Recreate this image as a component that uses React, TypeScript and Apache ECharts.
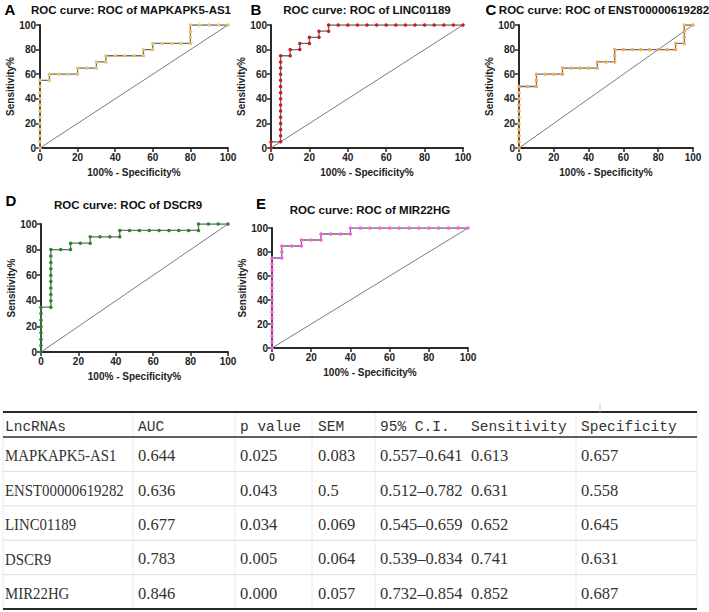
import React, { useEffect, useRef } from "react";
import * as echarts from "echarts";

// ---------- ROC data (100% - Specificity%, Sensitivity%) ----------
const panelLetters = ["A", "B", "C", "D", "E"];
const panelTitles = [
  "ROC curve: ROC of MAPKAPK5-AS1",
  "ROC curve: ROC of LINC01189",
  "ROC curve: ROC of ENST00000619282",
  "ROC curve: ROC of DSCR9",
  "ROC curve: ROC of MIR22HG",
];
const xAxisTitle = "100% - Specificity%";
const yAxisTitle = "Sensitivity%";
const axisTicks = [0, 20, 40, 60, 80, 100];
const diagonal = [0, 100];

const fprA = [0, 0, 0, 0, 0, 0, 0, 0, 0, 0, 0, 0, 5, 5, 10, 15, 20, 20, 25, 30, 30, 35, 35, 40, 45, 50, 55, 55, 60, 60, 65, 70, 75, 80, 80, 80, 80, 85, 90, 95, 100];
const tprA = [0, 5, 10, 15, 20, 25, 30, 35, 40, 45, 50, 55, 55, 60, 60, 60, 60, 65, 65, 65, 70, 70, 75, 75, 75, 75, 75, 80, 80, 85, 85, 85, 85, 85, 90, 95, 100, 100, 100, 100, 100];

const fprB = [0, 0, 5, 5, 5, 5, 5, 5, 5, 5, 5, 5, 5, 5, 5, 5, 5, 10, 10, 15, 15, 20, 20, 25, 25, 30, 30, 35, 40, 45, 50, 55, 60, 65, 70, 75, 80, 85, 90, 95, 100];
const tprB = [0, 5, 5, 10, 15, 20, 25, 30, 35, 40, 45, 50, 55, 60, 65, 70, 75, 75, 80, 80, 85, 85, 90, 90, 95, 95, 100, 100, 100, 100, 100, 100, 100, 100, 100, 100, 100, 100, 100, 100, 100];

const fprC = [0, 0, 0, 0, 0, 0, 0, 0, 0, 0, 0, 5, 10, 10, 10, 15, 20, 25, 25, 30, 35, 40, 45, 45, 50, 55, 55, 55, 60, 65, 70, 75, 80, 85, 90, 90, 95, 95, 95, 95, 100];
const tprC = [0, 5, 10, 15, 20, 25, 30, 35, 40, 45, 50, 50, 50, 55, 60, 60, 60, 60, 65, 65, 65, 65, 65, 70, 70, 70, 75, 80, 80, 80, 80, 80, 80, 80, 80, 85, 85, 90, 95, 100, 100];

const fprD = [0, 0, 0, 0, 0, 0, 0, 0, 5.26, 5.26, 5.26, 5.26, 5.26, 5.26, 5.26, 5.26, 5.26, 5.26, 10.53, 15.79, 15.79, 21.05, 26.32, 26.32, 31.58, 36.84, 42.11, 42.11, 47.37, 52.63, 57.89, 63.16, 68.42, 73.68, 78.95, 84.21, 84.21, 89.47, 94.74, 100];
const tprD = [0, 5, 10, 15, 20, 25, 30, 35, 35, 40, 45, 50, 55, 60, 65, 70, 75, 80, 80, 80, 85, 85, 85, 90, 90, 90, 90, 95, 95, 95, 95, 95, 95, 95, 95, 95, 100, 100, 100, 100];

const fprE = [0, 0, 0, 0, 0, 0, 0, 0, 0, 0, 0, 0, 0, 0, 0, 0, 5, 5, 5, 10, 15, 15, 20, 25, 25, 30, 35, 40, 40, 45, 50, 55, 60, 65, 70, 75, 80, 85, 90, 95, 100];
const tprE = [0, 5, 10, 15, 20, 25, 30, 35, 40, 45, 50, 55, 60, 65, 70, 75, 75, 80, 85, 85, 85, 90, 90, 90, 95, 95, 95, 95, 100, 100, 100, 100, 100, 100, 100, 100, 100, 100, 100, 100, 100];

const rocFpr = [fprA, fprB, fprC, fprD, fprE];
const rocTpr = [tprA, tprB, tprC, tprD, tprE];

// ---------- table data ----------
const tableHeaders = ["LncRNAs", "AUC", "p value", "SEM", "95% C.I.", "Sensitivity", "Specificity"];
const lncRNAs = ["MAPKAPK5-AS1", "ENST00000619282", "LINC01189", "DSCR9", "MIR22HG"];
const aucValues = ["0.644", "0.636", "0.677", "0.783", "0.846"];
const pValues = ["0.025", "0.043", "0.034", "0.005", "0.000"];
const semValues = ["0.083", "0.5", "0.069", "0.064", "0.057"];
const ciValues = ["0.557\u20130.641", "0.512\u20130.782", "0.545\u20130.659", "0.539\u20130.834", "0.732\u20130.854"];
const sensitivityValues = ["0.613", "0.631", "0.652", "0.741", "0.852"];
const specificityValues = ["0.657", "0.558", "0.645", "0.631", "0.687"];

// ---------- layout / style (not data) ----------
const pointColors = ["#e8c36c", "#d01818", "#f5a84e", "#1e8c1e", "#ff5ae6"];
const grids = [
  { left: 40, top: 25, width: 188, height: 123 },
  { left: 271, top: 25, width: 192, height: 123 },
  { left: 519, top: 25, width: 174, height: 123 },
  { left: 41, top: 224, width: 187, height: 128 },
  { left: 272, top: 228, width: 196, height: 120 },
];
const titlePos = [
  { x: 131, y: 10 },
  { x: 367, y: 10 },
  { x: 604, y: 10 },
  { x: 128, y: 205 },
  { x: 370, y: 210 },
];
const letterPos = [
  { x: 10, y: 9 },
  { x: 256, y: 9 },
  { x: 491, y: 9 },
  { x: 11, y: 200 },
  { x: 261, y: 203 },
];
const colX = [5, 138, 240, 318, 380, 471, 581];
const vLineX = [3, 133, 235, 312, 375, 576, 697];
const tableTop = 412;
const headerBottom = 437;
const tableBottom = 609;
const tableLeft = 3;
const tableRight = 697;

const SANS = '"Liberation Sans", Arial, sans-serif';
const SERIF = '"Liberation Serif", "Times New Roman", serif';
const MONO = '"Liberation Mono", "DejaVu Sans Mono", monospace';

function buildOption() {
  const xAxes: any[] = [];
  const yAxes: any[] = [];
  const series: any[] = [];
  const graphic: any[] = [];

  const axisCommon = {
    type: "value",
    min: axisTicks[0],
    max: axisTicks[axisTicks.length - 1],
    interval: axisTicks[1] - axisTicks[0],
    splitLine: { show: false },
    axisLine: { show: true, lineStyle: { color: "#2a2a2a", width: 2 } },
    axisTick: { show: true, length: 4, lineStyle: { color: "#2a2a2a", width: 1.5 } },
    axisLabel: { color: "#222", fontSize: 10, fontWeight: "bold", fontFamily: SANS, margin: 4 },
    nameLocation: "middle",
    nameTextStyle: { color: "#222", fontSize: 10, fontWeight: "bold", fontFamily: SANS },
  };

  grids.forEach((g, i) => {
    xAxes.push({ ...axisCommon, gridIndex: i, name: xAxisTitle, nameGap: 19 });
    yAxes.push({ ...axisCommon, gridIndex: i, name: yAxisTitle, nameGap: 22 });
    series.push({
      type: "line",
      xAxisIndex: i,
      yAxisIndex: i,
      data: [
        [diagonal[0], diagonal[0]],
        [diagonal[1], diagonal[1]],
      ],
      symbol: "none",
      silent: true,
      lineStyle: { color: "#7c7c7c", width: 1 },
      z: 2,
    });
    series.push({
      type: "line",
      xAxisIndex: i,
      yAxisIndex: i,
      data: rocFpr[i].map((x, j) => [x, rocTpr[i][j]]),
      symbol: "circle",
      symbolSize: 3.5,
      showSymbol: true,
      lineStyle: { color: "#6c6c6c", width: 1.3 },
      itemStyle: { color: pointColors[i] },
      z: 3,
    });
    graphic.push({
      type: "text",
      x: titlePos[i].x,
      y: titlePos[i].y,
      style: {
        text: panelTitles[i],
        fontSize: 11.5,
        fontWeight: "bold",
        fontFamily: SANS,
        fill: "#111",
        align: "center",
        verticalAlign: "middle",
      },
    });
    graphic.push({
      type: "text",
      x: letterPos[i].x,
      y: letterPos[i].y,
      style: {
        text: panelLetters[i],
        fontSize: 15,
        fontWeight: "bold",
        fontFamily: SANS,
        fill: "#000",
        align: "center",
        verticalAlign: "middle",
      },
    });
  });

  // ---- table ----
  const rowH = (tableBottom - headerBottom) / lncRNAs.length;
  const columns = [lncRNAs, aucValues, pValues, semValues, ciValues, sensitivityValues, specificityValues];

  vLineX.forEach((x) => {
    graphic.push({
      type: "line",
      shape: { x1: x, y1: tableTop, x2: x, y2: tableBottom },
      style: { stroke: "#ececec", lineWidth: 1 },
    });
  });
  for (let r = 1; r < lncRNAs.length; r++) {
    const y = headerBottom + r * rowH;
    graphic.push({
      type: "line",
      shape: { x1: tableLeft, y1: y, x2: tableRight, y2: y },
      style: { stroke: "#dedede", lineWidth: 1 },
    });
  }
  [tableTop, headerBottom, tableBottom].forEach((y, k) => {
    graphic.push({
      type: "line",
      shape: { x1: tableLeft, y1: y, x2: tableRight, y2: y },
      style: { stroke: "#2a2a2a", lineWidth: k === 1 ? 1.5 : 2 },
    });
  });
  graphic.push({
    type: "line",
    shape: { x1: 600, y1: 403, x2: 600, y2: tableTop },
    style: { stroke: "#cfcfcf", lineWidth: 1 },
  });

  tableHeaders.forEach((h, c) => {
    graphic.push({
      type: "text",
      x: colX[c],
      y: (tableTop + headerBottom) / 2 + 2,
      style: {
        text: h,
        fontSize: 14.5,
        fontFamily: MONO,
        fill: "#333",
        align: "left",
        verticalAlign: "middle",
      },
    });
  });
  columns.forEach((col, c) => {
    col.forEach((v, r) => {
      graphic.push({
        type: "text",
        x: colX[c],
        y: headerBottom + rowH * (r + 0.5) + 1.5,
        scaleX: c === 0 ? 0.9 : 1,
        style: {
          text: v,
          fontSize: 16.5,
          fontFamily: SERIF,
          fill: "#333",
          align: "left",
          verticalAlign: "middle",
        },
      });
    });
  });

  return {
    animation: false,
    backgroundColor: "#ffffff",
    grid: grids.map((g) => ({ ...g, containLabel: false })),
    xAxis: xAxes,
    yAxis: yAxes,
    series,
    graphic,
  };
}

export default function App() {
  const ref = useRef<HTMLDivElement>(null);
  useEffect(() => {
    if (!ref.current) return;
    const chart = echarts.init(ref.current, undefined, { renderer: "svg" });
    chart.setOption(buildOption() as any);
    return () => chart.dispose();
  }, []);
  return (
    <div
      ref={ref}
      style={{ position: "absolute", left: 0, top: 0, width: 709, height: 612, background: "#fff" }}
    />
  );
}
